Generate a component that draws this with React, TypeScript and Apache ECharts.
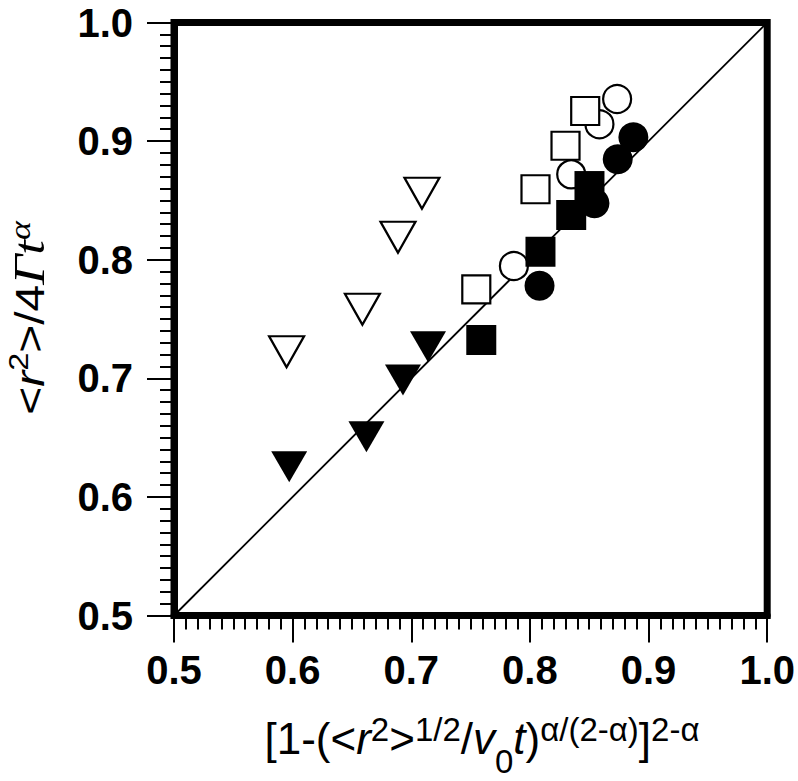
import React, { useEffect, useRef } from "react";
import * as echarts from "echarts";

// axis ranges and tick labels
const axisMin = 0.5;
const axisMax = 1.0;
const axisStep = 0.1;
const tickLabels = ["0.5", "0.6", "0.7", "0.8", "0.9", "1.0"];

// diagonal y = x
const diagonal = [
  [0.5, 0.5],
  [1.0, 1.0],
];

// data series [x, y]
const openTriangles = [
  [0.5949, 0.7224],
  [0.6588, 0.7582],
  [0.6888, 0.8189],
  [0.709, 0.856],
];
const filledTriangles = [
  [0.5971, 0.6255],
  [0.6622, 0.6508],
  [0.693, 0.6986],
  [0.7141, 0.7266],
];
const openCircles = [
  [0.7865, 0.7947],
  [0.8348, 0.872],
  [0.8586, 0.9142],
  [0.8735, 0.9355],
];
const filledCircles = [
  [0.8081, 0.7781],
  [0.8544, 0.8476],
  [0.874, 0.8847],
  [0.8872, 0.9032],
];
const openSquares = [
  [0.7548, 0.775],
  [0.8047, 0.8594],
  [0.83, 0.8961],
  [0.8466, 0.9254],
];
const filledSquares = [
  [0.759, 0.7323],
  [0.8089, 0.8067],
  [0.8348, 0.8377],
  [0.8502, 0.8621],
];

const SANS = "'Liberation Sans', Arial, Helvetica, sans-serif";
const SERIF = "'Liberation Serif', 'Times New Roman', serif";

const xName =
  "{m|[1-(<}{mi|r}{s|2}{m|>}{s|1/2}{m|/}{mi|v}{sb|0}{mi|t}{m|)}{s|α/(2-α)}{m|]}{s|2-α}";
const yName = "{m|<}{mi|r}{s|2}{m|>/4}{g|Γt}{ga|α}";

function makeAxis(isX: boolean) {
  return {
    type: "value",
    min: axisMin,
    max: axisMax,
    interval: axisStep,
    axisLine: { show: true, onZero: false, lineStyle: { color: "#000", width: 7 } },
    axisTick: { show: true, inside: false, length: 27, lineStyle: { color: "#000", width: 2 } },
    minorTick: { show: true, splitNumber: 10, length: 14, lineStyle: { color: "#000", width: 2 } },
    splitLine: { show: false },
    minorSplitLine: { show: false },
    axisLabel: {
      show: true,
      margin: isX ? 34 : 41,
      fontSize: 40,
      fontWeight: "bold",
      fontFamily: SANS,
      color: "#000",
      showMinLabel: true,
      showMaxLabel: true,
      formatter: (v: number) => {
        const i = Math.round((v - axisMin) / axisStep);
        return tickLabels[i] ?? v.toFixed(1);
      },
    },
  };
}

export default function App() {
  const ref = useRef<HTMLDivElement>(null);
  useEffect(() => {
    if (!ref.current) return;
    const chart = echarts.init(ref.current, undefined, { renderer: "svg" });
    const openStyle = { color: "#fff", borderColor: "#000", borderWidth: 2.2, opacity: 1 };
    const filledStyle = { color: "#000", borderColor: "#000", borderWidth: 0, opacity: 1 };
    chart.setOption({
      animation: false,
      backgroundColor: "#fff",
      grid: {
        left: 174,
        right: 30,
        top: 22.5,
        bottom: 165.5,
        show: true,
        borderColor: "#000",
        borderWidth: 7,
        backgroundColor: "transparent",
        containLabel: false,
      },
      xAxis: makeAxis(true),
      yAxis: makeAxis(false),
      graphic: [
        {
          type: "text",
          x: 482,
          y: 738.5,
          z: 100,
          style: {
            text: xName,
            align: "center",
            verticalAlign: "middle",
            fill: "#000",
            rich: {
              m: { fontSize: 44, fontFamily: SANS, lineHeight: 79, verticalAlign: "middle", fill: "#000" },
              mi: { fontSize: 44, fontFamily: SANS, fontStyle: "italic", lineHeight: 79, verticalAlign: "middle", fill: "#000" },
              s: { fontSize: 33, fontFamily: SANS, lineHeight: 33, padding: [14, 0, 0, 0], verticalAlign: "top", fill: "#000" },
              sb: { fontSize: 33, fontFamily: SANS, lineHeight: 33, verticalAlign: "bottom", fill: "#000" },
            },
          },
        },
        {
          type: "text",
          x: 30,
          y: 318,
          rotation: Math.PI / 2,
          scaleX: 1.2,
          z: 100,
          style: {
            text: yName,
            align: "center",
            verticalAlign: "middle",
            fill: "#000",
            rich: {
              m: { fontSize: 40, fontFamily: SANS, lineHeight: 50, verticalAlign: "middle", fill: "#000" },
              mi: { fontSize: 40, fontFamily: SANS, fontStyle: "italic", lineHeight: 50, verticalAlign: "middle", fill: "#000" },
              s: { fontSize: 27, fontFamily: SANS, lineHeight: 27, verticalAlign: "top", fill: "#000" },
              g: { fontSize: 44, fontFamily: SERIF, fontStyle: "italic", lineHeight: 50, verticalAlign: "middle", fill: "#000" },
              ga: { fontSize: 30, fontFamily: SERIF, fontStyle: "italic", lineHeight: 30, verticalAlign: "top", fill: "#000" },
            },
          },
        },
      ],
      series: [
        {
          type: "line",
          data: diagonal,
          showSymbol: false,
          symbol: "none",
          lineStyle: { color: "#000", width: 1.8 },
          z: 1,
          silent: true,
        },
        {
          type: "scatter",
          data: openTriangles,
          symbol: "triangle",
          symbolRotate: 180,
          symbolSize: [35, 31],
          itemStyle: openStyle,
          z: 2,
        },
        {
          type: "scatter",
          data: filledTriangles,
          symbol: "triangle",
          symbolRotate: 180,
          symbolSize: [36, 31],
          itemStyle: filledStyle,
          z: 3,
        },
        {
          type: "scatter",
          data: openCircles,
          symbol: "circle",
          symbolSize: 28,
          itemStyle: openStyle,
          z: 4,
        },
        {
          type: "scatter",
          data: filledCircles,
          symbol: "circle",
          symbolSize: 30,
          itemStyle: filledStyle,
          z: 5,
        },
        {
          type: "scatter",
          data: openSquares,
          symbol: "rect",
          symbolSize: 28,
          itemStyle: openStyle,
          z: 6,
        },
        {
          type: "scatter",
          data: filledSquares,
          symbol: "rect",
          symbolSize: 30,
          itemStyle: filledStyle,
          z: 7,
        },
      ],
    });
    return () => chart.dispose();
  }, []);
  return (
    <div
      ref={ref}
      style={{ position: "fixed", left: 0, top: 0, width: 798, height: 781, background: "#fff" }}
    />
  );
}
